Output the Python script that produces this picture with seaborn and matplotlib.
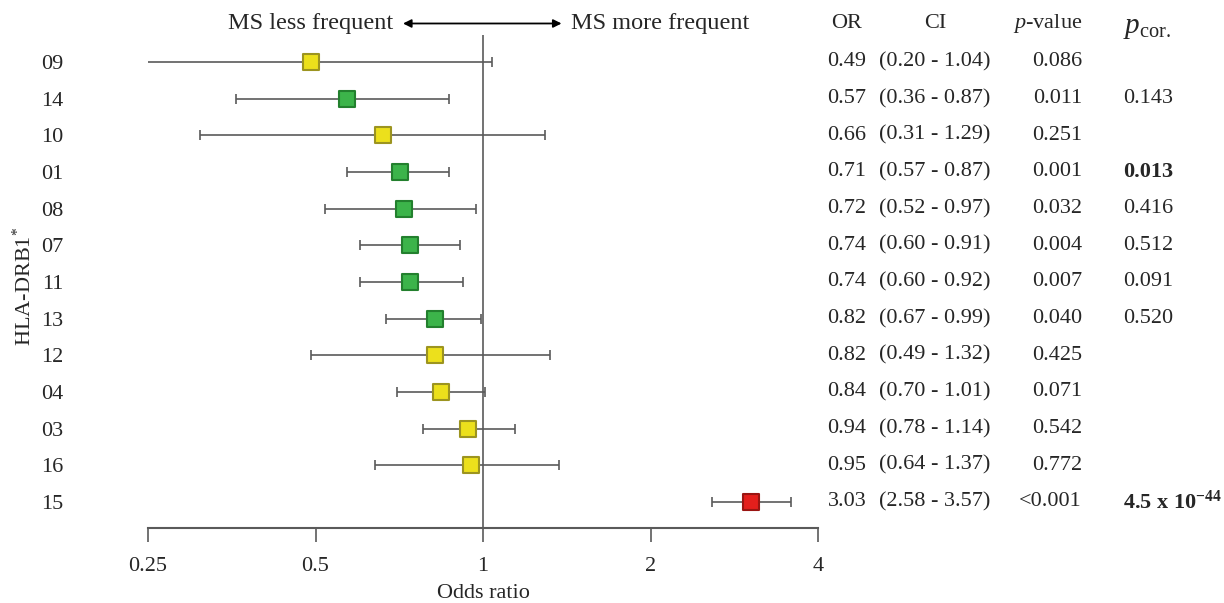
import numpy as np
import pandas as pd
import matplotlib
matplotlib.use("Agg")
import matplotlib.pyplot as plt
import matplotlib.transforms as mtransforms
import seaborn as sns

# -----------------------------
# Data
# -----------------------------
alleles = ["09", "14", "10", "01", "08", "07", "11", "13", "12", "04", "03", "16", "15"]
odds = [0.49, 0.57, 0.66, 0.71, 0.72, 0.74, 0.74, 0.82, 0.82, 0.84, 0.94, 0.95, 3.03]
ci_low = [0.20, 0.36, 0.31, 0.57, 0.52, 0.60, 0.60, 0.67, 0.49, 0.70, 0.78, 0.64, 2.58]
ci_high = [1.04, 0.87, 1.29, 0.87, 0.97, 0.91, 0.92, 0.99, 1.32, 1.01, 1.14, 1.37, 3.57]
p_values = ["0.086", "0.011", "0.251", "0.001", "0.032", "0.004", "0.007",
            "0.040", "0.425", "0.071", "0.542", "0.772", "<0.001"]
p_cor = ["", "0.143", "", "0.013", "0.416", "0.512", "0.091", "0.520",
         "", "", "", "", r"4.5 x 10$^{\mathbf{-44}}$"]
p_cor_bold = [False, False, False, True, False, False, False, False,
              False, False, False, False, True]
group = ["ns", "protective", "ns", "protective", "protective", "protective", "protective",
         "protective", "ns", "ns", "ns", "ns", "risk"]
x_ticks = [0.25, 0.5, 1, 2, 4]

df = pd.DataFrame({"allele": alleles, "OR": odds, "lo": ci_low, "hi": ci_high, "group": group})
df["pos"] = np.arange(len(df))

# -----------------------------
# Style
# -----------------------------
sns.set_style("white")
plt.rcParams["font.family"] = ["Liberation Serif", "DejaVu Serif"]
plt.rcParams["mathtext.fontset"] = "custom"
plt.rcParams["mathtext.rm"] = "Liberation Serif"
plt.rcParams["mathtext.it"] = "Liberation Serif:italic"
plt.rcParams["mathtext.bf"] = "Liberation Serif:bold"
fs = 16
grey = "#5a5a5a"

fig = plt.figure(figsize=(12.24, 6.03), dpi=100)
ax = fig.add_axes([148 / 1224, 1 - 528 / 603, 670 / 1224, 493 / 603])

# confidence intervals
ax.errorbar(df["OR"], df["pos"],
            xerr=[df["OR"] - df["lo"], df["hi"] - df["OR"]],
            fmt="none", ecolor=grey, elinewidth=1.2, capsize=3.5, capthick=1.2, zorder=2)

# reference line at OR = 1
ax.axvline(1, color=grey, lw=1.2, zorder=1)

# point estimates
palette = {"ns": "#ece01c", "protective": "#3cb44a", "risk": "#e41f1c"}
edges = {"ns": "#9c9420", "protective": "#23802e", "risk": "#9a1512"}
sns.scatterplot(data=df, x="OR", y="pos", hue="group", palette=palette, marker="s",
                s=130, linewidth=0, legend=False, ax=ax, zorder=3)
ax.collections[-1].set_edgecolor([edges[g] for g in df["group"]])
ax.collections[-1].set_linewidth(1.5)

ax.set_xscale("log", base=2)
ax.set_xlim(0.25, 4)
ax.set_xticks(x_ticks)
ax.set_xticklabels(["0.25", "0.5", "1", "2", "4"], fontsize=fs)
ax.minorticks_off()
ax.set_ylim(12.71, -0.736)
ax.set_yticks(df["pos"])
ax.set_yticklabels(alleles, fontsize=fs)
ax.tick_params(axis="y", length=0, pad=61)
ax.tick_params(axis="x", bottom=True, length=10, width=1.2, color=grey, pad=11,
               direction="out")

for side in ["top", "right", "left"]:
    ax.spines[side].set_visible(False)
ax.spines["bottom"].set_color(grey)
ax.spines["bottom"].set_linewidth(1.5)

ax.set_xlabel("Odds ratio", fontsize=fs)
ax.xaxis.set_label_coords(0.5, -0.113)
ax.set_ylabel(r"HLA-DRB1$^{*}$", fontsize=fs)
ax.yaxis.set_label_coords(-0.168, 0.49)

# direction arrow on top
y_top = -1.05
ax.annotate("", xy=(0.71, y_top), xytext=(1.40, y_top), xycoords="data",
            arrowprops=dict(arrowstyle="<|-|>", color="black", lw=1.3, mutation_scale=12),
            annotation_clip=False)
ax.text(0.69, y_top, "MS less frequent", ha="right", va="center", fontsize=17.5, clip_on=False)
ax.text(1.44, y_top, "MS more frequent", ha="left", va="center", fontsize=17.5, clip_on=False)

# table columns on the right
tr = mtransforms.blended_transform_factory(fig.transFigure, ax.transData)
x_or, x_ci, x_p, x_pc = 847 / 1224, 935 / 1224, 1082 / 1224, 1123 / 1224
fig.text(x_or, y_top, "OR", ha="center", va="center", fontsize=fs, transform=tr)
fig.text(x_ci, y_top, "CI", ha="center", va="center", fontsize=fs, transform=tr)
fig.text(x_p, y_top, r"$p$-value", ha="right", va="center", fontsize=fs, transform=tr)
fig.text(x_pc, y_top + 0.12, r"$p_{\mathrm{cor.}}$", ha="left", va="center", fontsize=21, transform=tr)

for i in range(len(df)):
    fig.text(x_or, i, f"{odds[i]:.2f}", ha="center", va="center", fontsize=fs, transform=tr)
    fig.text(x_ci, i, f"({ci_low[i]:.2f} - {ci_high[i]:.2f})", ha="center", va="center",
             fontsize=fs, transform=tr)
    fig.text(x_p, i, p_values[i], ha="right", va="center", fontsize=fs, transform=tr)
    if p_cor[i]:
        fig.text(x_pc, i, p_cor[i], ha="left", va="center", fontsize=fs,
                 fontweight="bold" if p_cor_bold[i] else "normal", transform=tr)

plt.savefig("out.png", dpi=100)
